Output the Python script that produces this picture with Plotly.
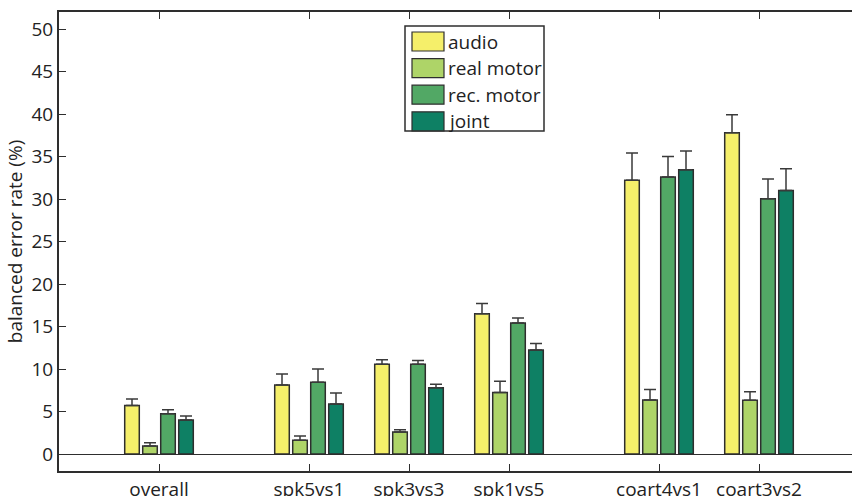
import plotly.graph_objects as go

categories = ["overall", "spk5vs1", "spk3vs3", "spk1vs5", "coart4vs1", "coart3vs2"]
positions = [1, 2.5, 3.5, 4.5, 6, 7]
series_names = ["audio", "real motor", "rec. motor", "joint"]

audio = [5.72, 8.12, 10.55, 16.5, 32.2, 37.8]
audio_err = [0.75, 1.29, 0.55, 1.2, 3.2, 2.1]
real_motor = [0.94, 1.61, 2.59, 7.25, 6.35, 6.31]
real_motor_err = [0.39, 0.51, 0.27, 1.3, 1.25, 1.0]
rec_motor = [4.75, 8.43, 10.55, 15.4, 32.6, 30.04]
rec_motor_err = [0.45, 1.57, 0.45, 0.6, 2.4, 2.3]
joint = [4.0, 5.88, 7.8, 12.24, 33.45, 31.0]
joint_err = [0.47, 1.3, 0.4, 0.76, 2.2, 2.56]

yticks = [0, 5, 10, 15, 20, 25, 30, 35, 40, 45, 50]

colors = ["#F5EF6A", "#AED468", "#52A865", "#0E8064"]
edge = "#2e2e2e"
FONT = "Open Sans"
FS = 19

values = [audio, real_motor, rec_motor, joint]
errors = [audio_err, real_motor_err, rec_motor_err, joint_err]

fig = go.Figure()
for name, vals, errs, col in zip(series_names, values, errors, colors):
    fig.add_trace(go.Bar(
        x=positions, y=vals, name=name,
        marker=dict(color=col, line=dict(color=edge, width=1.5)),
        error_y=dict(type="data", array=errs, arrayminus=[0] * len(errs),
                     symmetric=False, color="#3a3a3a", thickness=1.5, width=6),
        showlegend=False,
    ))

W, H = 852, 496
L, R, T, B = 59, 0, 12, 25
pw, ph = W - L - R, H - T - B


def px_x(p):
    return (p - L) / pw


def px_y(p):
    return 1 - (p - T) / ph


shapes = []
annotations = []
# legend box
shapes.append(dict(type="rect", xref="paper", yref="paper",
                   x0=px_x(405), x1=px_x(544), y0=px_y(131), y1=px_y(26),
                   line=dict(color=edge, width=1.5), fillcolor="white", layer="above"))
for i, (name, col) in enumerate(zip(series_names, colors)):
    top = 32 + i * 26.6
    shapes.append(dict(type="rect", xref="paper", yref="paper",
                       x0=px_x(412), x1=px_x(444), y0=px_y(top + 19), y1=px_y(top),
                       line=dict(color=edge, width=1.2), fillcolor=col, layer="above"))
    annotations.append(dict(xref="paper", yref="paper", x=px_x(446), y=px_y(top + 9.5),
                            text=name, showarrow=False, xanchor="left", yanchor="middle",
                            font=dict(family=FONT, size=FS, color="#222")))

fig.update_layout(
    width=W, height=H,
    margin=dict(l=L, r=R, t=T, b=B, pad=0),
    plot_bgcolor="white", paper_bgcolor="white",
    barmode="group", bargap=0.28, bargroupgap=0.19,
    font=dict(family=FONT, size=FS, color="#222"),
    shapes=shapes, annotations=annotations,
    xaxis=dict(range=[0, 7.93], tickvals=positions, ticktext=categories,
               ticks="inside", ticklen=7, tickwidth=1, tickcolor=edge,
               showline=True, linecolor=edge, linewidth=2, mirror="ticks",
               showgrid=False, zeroline=False, tickfont=dict(size=FS),
               automargin=False),
    yaxis=dict(range=[-2, 52], tickvals=yticks,
               ticks="inside", ticklen=7, tickwidth=1, tickcolor=edge,
               showline=True, linecolor=edge, linewidth=2, mirror=False,
               showgrid=False, zeroline=True, zerolinecolor=edge, zerolinewidth=1,
               title=dict(text="balanced error rate (%)", font=dict(size=FS), standoff=4),
               tickfont=dict(size=FS), automargin=False),
)

fig.write_html("out.html", config={"displayModeBar": False},
               post_script="document.body.style.margin='0px';document.body.style.overflow='hidden';")
